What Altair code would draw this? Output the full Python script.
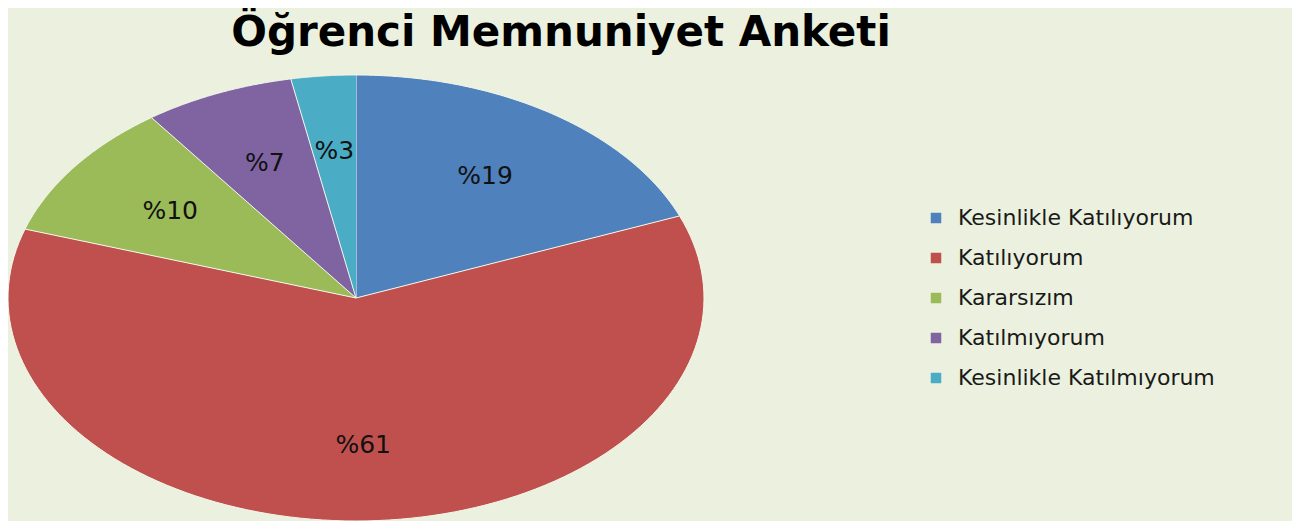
import altair as alt
import pandas as pd

categories = ["Kesinlikle Katılıyorum", "Katılıyorum", "Kararsızım", "Katılmıyorum", "Kesinlikle Katılmıyorum"]
values = [19, 61, 10, 7, 3]
colors = ["#4F81BD", "#C0504D", "#9BBB59", "#8064A2", "#4BACC6"]
title_text = "Öğrenci Memnuniyet Anketi"

df = pd.DataFrame({"kategori": categories, "deger": values, "sira": list(range(len(values)))})

BG = "#EBF1DE"
W, H = 696, 446

base = (
    alt.Chart(df)
    .transform_window(cum="sum(deger)", sort=[alt.SortField("sira")], frame=[None, 0])
    .transform_joinaggregate(total="sum(deger)")
    .transform_calculate(
        a0="(datum.cum - datum.deger) / datum.total * 2 * PI",
        a1="datum.cum / datum.total * 2 * PI",
    )
)

xs = alt.Scale(domain=[-1, 1], nice=False, zero=False)
ys = alt.Scale(domain=[-1, 1], nice=False, zero=False)

slices = (
    base.transform_calculate(k="sequence(-1, 121)")
    .transform_flatten(["k"])
    .transform_calculate(
        ang="datum.a0 + (datum.a1 - datum.a0) * max(datum.k, 0) / 120",
    )
    .transform_calculate(
        px="datum.k < 0 ? 0 : sin(datum.ang)",
        py="datum.k < 0 ? 0 : cos(datum.ang)",
    )
    .mark_line(stroke="#F4F7EC", strokeWidth=1, interpolate="linear")
    .encode(
        x=alt.X("px:Q", scale=xs, axis=None),
        y=alt.Y("py:Q", scale=ys, axis=None),
        order=alt.Order("k:Q"),
        fill=alt.Fill(
            "kategori:N",
            scale=alt.Scale(domain=categories, range=colors),
            sort=categories,
            legend=alt.Legend(
                title=None,
                orient="none",
                legendX=917,
                legendY=132,
                symbolType="square",
                symbolSize=110,
                symbolStrokeWidth=0,
                labelFont="DejaVu Sans",
                labelFontSize=22,
                labelColor="#1a1a1a",
                labelOffset=11,
                rowPadding=18,
                labelLimit=400,
            ),
        ),
    )
)

labels = (
    base.transform_calculate(
        mid="(datum.a0 + datum.a1) / 2",
        etiket="'%' + datum.deger",
    )
    .transform_calculate(
        lx="0.66 * sin(datum.mid)",
        ly="0.66 * cos(datum.mid)",
    )
    .mark_text(font="DejaVu Sans", fontSize=25, color="#111111")
    .encode(
        x=alt.X("lx:Q", scale=xs, axis=None),
        y=alt.Y("ly:Q", scale=ys, axis=None),
        text="etiket:N",
    )
)

chart = (
    alt.layer(slices, labels)
    .properties(
        width=W,
        height=H,
        background=BG,
        autosize=alt.AutoSizeParams(type="none"),
        padding={"left": 0, "top": 67, "right": 1284 - W, "bottom": 0},
        title=alt.TitleParams(
            text=title_text,
            font="DejaVu Sans",
            fontSize=42,
            fontWeight=600,
            color="#000000",
            anchor="middle",
            frame="group",
            dx=205,
            offset=18,
        ),
    )
    .configure_view(stroke=None)
)

chart.save("out.html", embed_options={"renderer": "svg", "actions": False})
